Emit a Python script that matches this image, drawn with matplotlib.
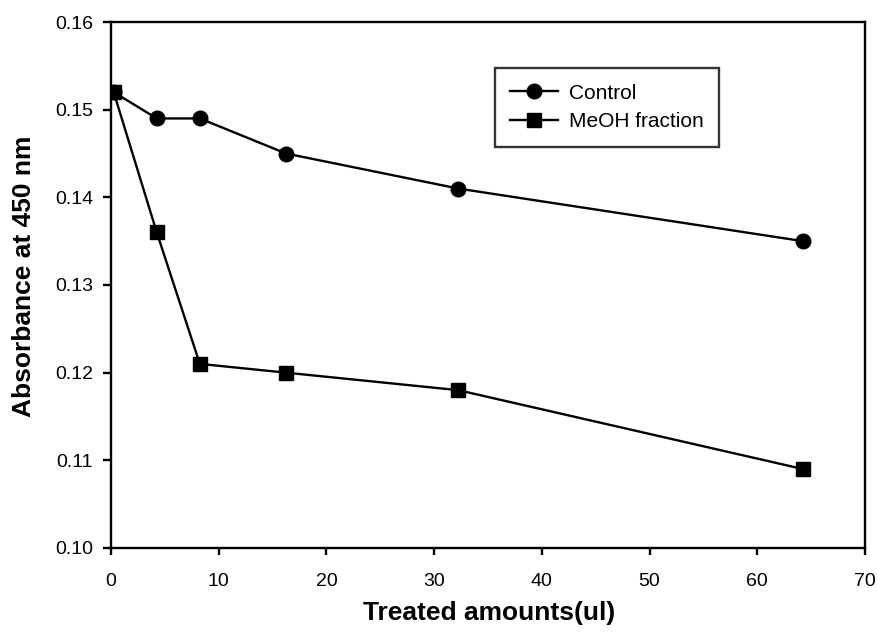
import matplotlib
matplotlib.use("Agg")
import matplotlib.pyplot as plt

# Absorbance at 450 nm versus treated amount
treated_ul = [0.25, 4.25, 8.25, 16.25, 32.25, 64.25]
control = [0.152, 0.149, 0.149, 0.145, 0.141, 0.135]
meoh_fraction = [0.152, 0.136, 0.121, 0.120, 0.118, 0.109]

x_ticks = [0, 10, 20, 30, 40, 50, 60, 70]
y_ticks = [0.10, 0.11, 0.12, 0.13, 0.14, 0.15, 0.16]

plt.rcParams["font.family"] = ["Liberation Sans", "DejaVu Sans"]

fig = plt.figure(figsize=(8.78, 6.38), dpi=100)
ax = fig.add_axes([0.1264, 0.1411, 0.8588, 0.8244])

ax.plot(treated_ul, control, color="black", lw=1.7, marker="o",
        markersize=10.5, label="Control")
ax.plot(treated_ul, meoh_fraction, color="black", lw=1.7, marker="s",
        markersize=9.5, label="MeOH fraction")

ax.set_xlim(0, 70)
ax.set_ylim(0.10, 0.16)
ax.set_xticks(x_ticks)
ax.set_yticks(y_ticks)
ax.set_xticklabels([str(t) for t in x_ticks])
ax.set_yticklabels([f"{t:.2f}" for t in y_ticks])

for side in ax.spines.values():
    side.set_linewidth(1.7)
    side.set_color("black")

ax.tick_params(axis="y", direction="out", length=6, width=1.7,
               pad=7, labelsize=14)
ax.tick_params(axis="x", direction="out", length=5, width=1.7,
               pad=13, labelsize=14)

ax.set_xlabel("Treated amounts(ul)", fontsize=19, fontweight="bold")
ax.set_ylabel("Absorbance at 450 nm", fontsize=19, fontweight="bold")
ax.xaxis.set_label_coords(0.502, -0.100)
ax.yaxis.set_label_coords(-0.10, 0.517)

leg = ax.legend(loc="upper left", bbox_to_anchor=(0.509, 0.9125),
                borderaxespad=0, fancybox=False, frameon=True,
                edgecolor="black", fontsize=15, handlelength=2.3,
                handletextpad=0.5, borderpad=0.75, labelspacing=0.45)
leg.get_frame().set_linewidth(1.7)

fig.savefig("out.png", dpi=100, facecolor="white")
